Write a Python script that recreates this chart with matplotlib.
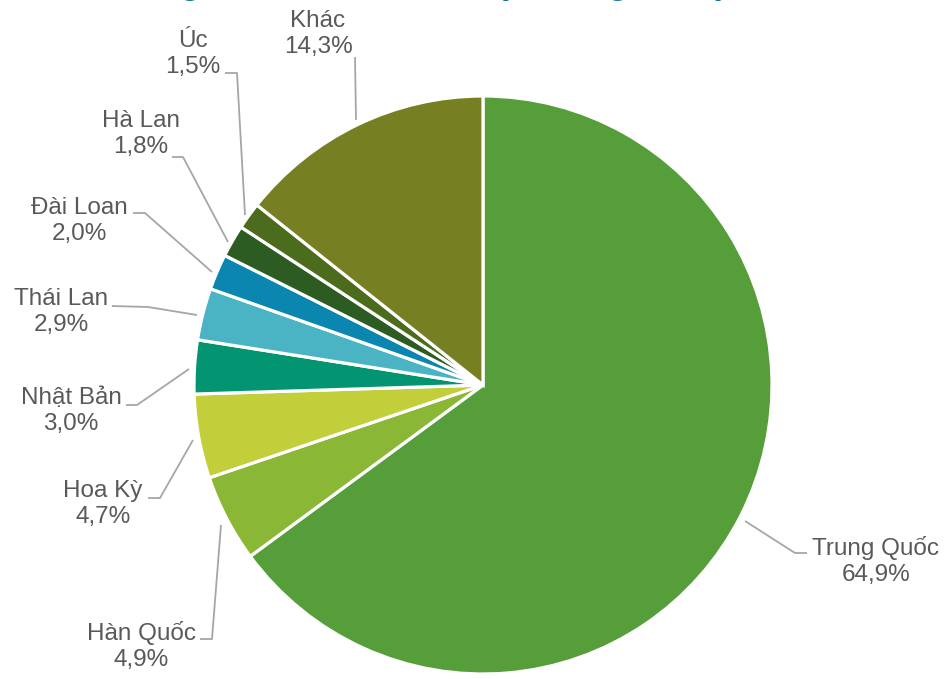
import matplotlib.pyplot as plt
import numpy as np

plt.rcParams['font.family'] = ['Liberation Sans', 'DejaVu Sans']

labels = ['Trung Quốc', 'Hàn Quốc', 'Hoa Kỳ', 'Nhật Bản', 'Thái Lan',
          'Đài Loan', 'Hà Lan', 'Úc', 'Khác']
values = [64.9, 4.9, 4.7, 3.0, 2.9, 2.0, 1.8, 1.5, 14.3]
colors = ['#559e3a', '#8bb736', '#c2cf3a', '#039471', '#4bb4c4',
          '#0a86b0', '#2d5c22', '#4b6c1d', '#767f22']

# label block centres and leader lines, in image pixels
label_pos = [(876, 561), (141, 646), (103, 504), (71, 411), (61, 312),
             (79, 221), (141, 134), (193, 54), (318, 34)]
leaders = [
    [(745, 521), (795, 553), (807, 553)],
    [(221, 525), (212, 639), (200, 639)],
    [(193, 440), (160, 498), (148, 498)],
    [(189, 369), (137, 405), (126, 405)],
    [(197, 315), (148, 307), (112, 306)],
    [(212, 272), (145, 213), (133, 213)],
    [(228, 242), (183, 157), (172, 157)],
    [(245, 215), (237, 73), (225, 73)],
    [(356, 120), (355, 57)],
]

CX, CY, R = 483, 385, 289


def px(x, y):
    return (x - CX) / R, (CY - y) / R


def main():
    fig = plt.figure(figsize=(9.44, 6.79), dpi=100)
    ax = fig.add_axes([0, 0, 1, 1])

    ax.pie(values, colors=colors, startangle=90, counterclock=False,
           radius=1, wedgeprops=dict(edgecolor='white', linewidth=2.3))

    for lab, v, (x, y), pts in zip(labels, values, label_pos, leaders):
        tx, ty = px(x, y)
        txt = lab + '\n' + ('%.1f%%' % v).replace('.', ',')
        ax.text(tx, ty, txt, ha='center', va='center', fontsize=17.5,
                color='#595959', linespacing=1.2)
        p = np.array([px(a, b) for a, b in pts])
        ax.plot(p[:, 0], p[:, 1], color='#a6a6a6', lw=1.3,
                solid_capstyle='butt')

    # title sits above the visible area, only descenders show
    tx, ty = px(15, -7)
    ax.text(tx, ty, 'Thị trường xuất khẩu chính (% tổng XNK)',
            ha='left', va='baseline', fontsize=26, fontweight='bold',
            color='#1a7a96', clip_on=False)

    x0, y0 = px(0, 679)
    x1, y1 = px(944, 0)
    ax.set_xlim(x0, x1)
    ax.set_ylim(y0, y1)
    ax.set_aspect('auto')
    ax.axis('off')

    fig.savefig('out.png', dpi=100)


if __name__ == "__main__":
    main()
